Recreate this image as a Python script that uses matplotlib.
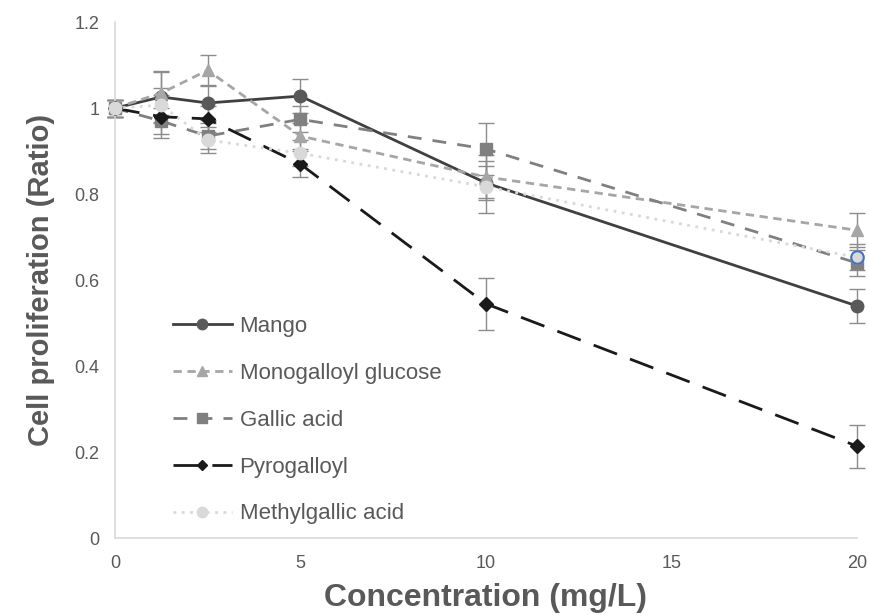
import matplotlib.pyplot as plt

plt.rcParams['font.family'] = ['Liberation Sans', 'DejaVu Sans']

# concentration (mg/L)
conc = [0, 1.25, 2.5, 5, 10, 20]

mango = [1.0, 1.026, 1.012, 1.028, 0.826, 0.54]
mango_err = [0.02, 0.06, 0.04, 0.04, 0.04, 0.04]

mgg = [1.0, 1.035, 1.088, 0.935, 0.84, 0.716]
mgg_err = [0.02, 0.05, 0.035, 0.03, 0.05, 0.04]

gallic = [1.0, 0.97, 0.935, 0.974, 0.905, 0.64]
gallic_err = [0.02, 0.03, 0.03, 0.03, 0.06, 0.03]

pyro = [1.0, 0.98, 0.975, 0.87, 0.545, 0.214]
pyro_err = [0.02, 0.05, 0.03, 0.03, 0.06, 0.05]

methyl = [1.0, 1.007, 0.926, 0.895, 0.817, 0.653]
methyl_err = [0.02, 0.04, 0.03, 0.03, 0.06, 0.03]

fig = plt.figure(figsize=(8.7, 6.15), dpi=100)
ax = fig.add_axes([0.132, 0.125, 0.853, 0.839])

series = [
    ('Mango', mango, mango_err, '#404040', '-', 'o', '#595959', 9),
    ('Monogalloyl glucose', mgg, mgg_err, '#a6a6a6', (0, (3, 2)), '^', '#a6a6a6', 9),
    ('Gallic acid', gallic, gallic_err, '#808080', (0, (5, 4)), 's', '#808080', 9),
    ('Pyrogalloyl', pyro, pyro_err, '#1a1a1a', (0, (9, 5)), 'D', '#1a1a1a', 7),
    ('Methylgallic acid', methyl, methyl_err, '#d9d9d9', (0, (1, 2)), 'o', '#d9d9d9', 9),
]

for name, y, err, lc, ls, mk, mc, ms in series:
    ax.errorbar(conc, y, yerr=err, fmt='none', ecolor='#8c8c8c', elinewidth=1,
                capsize=6, capthick=1, zorder=2, clip_on=False)
    ax.plot(conc, y, color=lc, lw=2, ls=ls, marker=mk, ms=ms, mfc=mc,
            mec=mc, zorder=3, clip_on=False)

# highlighted last point
ax.plot(conc[-1], methyl[-1], 'o', ms=9, mfc='#d9d9d9', mec='#4472c4',
        mew=1.5, zorder=4, clip_on=False)

ax.set_xlim(0, 20)
ax.set_ylim(0, 1.2)
ax.set_xticks([0, 5, 10, 15, 20])
ax.set_yticks([0, 0.2, 0.4, 0.6, 0.8, 1.0, 1.2])
ax.set_yticklabels(['0', '0.2', '0.4', '0.6', '0.8', '1', '1.2'])
ax.tick_params(axis='y', length=0, labelsize=13, colors='#595959', pad=11)
ax.tick_params(axis='x', length=0, labelsize=13, colors='#595959', pad=12)

for s in ['top', 'right']:
    ax.spines[s].set_visible(False)
for s in ['left', 'bottom']:
    ax.spines[s].set_color('#d9d9d9')
    ax.spines[s].set_linewidth(1.2)

ax.set_xlabel('Concentration (mg/L)', fontsize=23, fontweight='bold',
              color='#595959', labelpad=8)
ax.set_ylabel('Cell proliferation (Ratio)', fontsize=21, fontweight='bold',
              color='#595959', labelpad=14)

handles_leg = []
for name, y, err, lc, ls, mk, mc, ms in series:
    h, = ax.plot([], [], color=lc, lw=2, ls=ls, marker=mk, ms=ms - 1.5,
                 mfc=mc, mec=mc, label=name)
    handles_leg.append(h)

ax.legend(handles=handles_leg, loc='upper left', bbox_to_anchor=(0.078, 0.43),
          frameon=False, fontsize=16, labelspacing=1.16, handlelength=2.65,
          handletextpad=0.36, borderaxespad=0, borderpad=0,
          labelcolor='#595959')

fig.savefig('out.png', dpi=100)
